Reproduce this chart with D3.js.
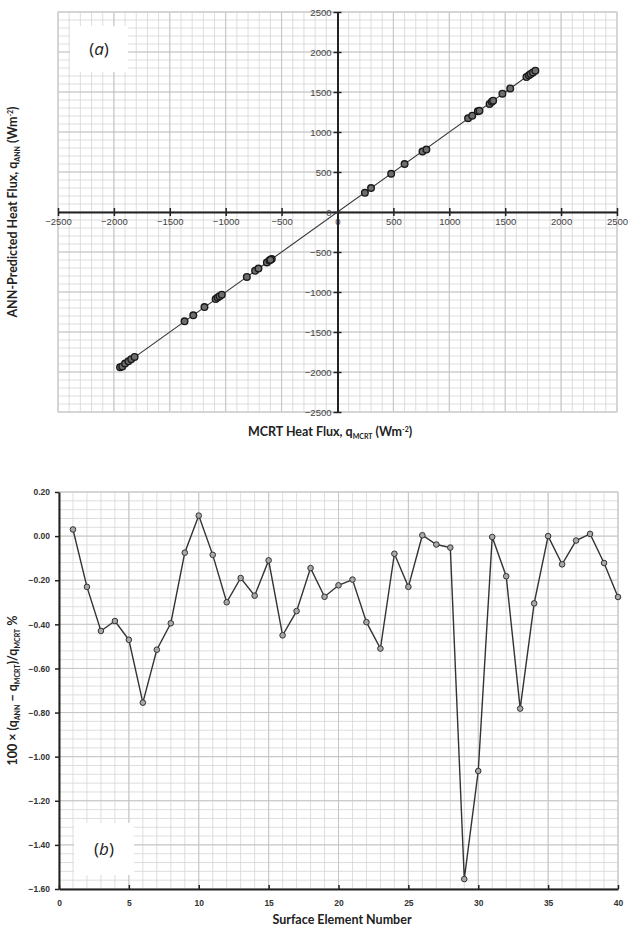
<!DOCTYPE html>
<html>
<head>
<meta charset="utf-8">
<script src="https://cdn.jsdelivr.net/npm/d3@7"></script>
<style>
  html, body { margin: 0; padding: 0; background: #fff; }
  svg { display: block; font-family: Lato, "Open Sans", sans-serif; }
  .tick_lbl { fill: #444; font-size: 9.5px; }
  .tick_lbl_b { fill: #333; font-size: 8.5px; font-weight: bold; }
  .axis_title { fill: #222; font-size: 12.5px; font-weight: bold; }
</style>
</head>
<body>
<svg id="fig" width="629" height="929"></svg>
<script>
// 数据 (a): MCRT vs ANN heat flux, 40 surface elements
const mcrtFlux = [245, 300, 480, 600, 760, 795, 1168, 1205, 1255, 1270,
  1360, 1380, 1392, 1475, 1545, 1690, 1712, 1728, 1748, 1770,
  -1945, -1925, -1900, -1870, -1845, -1815, -1368, -1290, -1190, -1090,
  -1072, -1055, -1035, -811, -737, -707, -632, -609, -588, -600];
const annFlux = [240, 300, 478, 600, 757, 780, 1172, 1204, 1258, 1265,
  1350, 1378, 1391, 1479, 1545, 1687, 1710, 1726, 1745, 1766,
  -1940, -1930, -1895, -1866, -1840, -1812, -1367, -1292, -1188, -1088,
  -1070, -1052, -1034, -812, -735, -706, -630, -607, -589, -598];
const fluxTicks = [-2500, -2000, -1500, -1000, -500, 0, 500, 1000, 1500, 2000, 2500];

// 数据 (b): relative error per surface element
const elementNo = d3.range(1, 41);
const relError = [0.03, -0.23, -0.43, -0.385, -0.47, -0.755, -0.515, -0.395, -0.075, 0.093,
  -0.085, -0.30, -0.19, -0.27, -0.11, -0.45, -0.34, -0.145, -0.275, -0.223,
  -0.197, -0.39, -0.51, -0.08, -0.23, 0.004, -0.038, -0.052, -1.555, -1.065,
  -0.004, -0.182, -0.782, -0.305, 0.0, -0.128, -0.02, 0.01, -0.122, -0.276];
const errTicks = [0.2, 0, -0.2, -0.4, -0.6, -0.8, -1.0, -1.2, -1.4, -1.6];
const elemTicks = [0, 5, 10, 15, 20, 25, 30, 35, 40];

const svg = d3.select('#fig');

// 绘制网格
function drawGrid(g, x, y, xMinor, yMinor, xMajor, yMajor) {
    const [x0, x1] = x.range();
    const [y0, y1] = y.range();
    g.append('g').selectAll('line').data(xMinor).enter().append('line')
        .attr('x1', d => x(d)).attr('x2', d => x(d))
        .attr('y1', y0).attr('y2', y1)
        .attr('stroke', '#d6d6d6').attr('stroke-width', 0.8);
    g.append('g').selectAll('line').data(yMinor).enter().append('line')
        .attr('x1', x0).attr('x2', x1)
        .attr('y1', d => y(d)).attr('y2', d => y(d))
        .attr('stroke', '#d6d6d6').attr('stroke-width', 0.8);
    g.append('g').selectAll('line').data(xMajor).enter().append('line')
        .attr('x1', d => x(d)).attr('x2', d => x(d))
        .attr('y1', y0).attr('y2', y1)
        .attr('stroke', '#c2c2c2').attr('stroke-width', 0.9);
    g.append('g').selectAll('line').data(yMajor).enter().append('line')
        .attr('x1', x0).attr('x2', x1)
        .attr('y1', d => y(d)).attr('y2', d => y(d))
        .attr('stroke', '#c2c2c2').attr('stroke-width', 0.9);
    g.append('rect')
        .attr('x', x0).attr('y', Math.min(y0, y1))
        .attr('width', x1 - x0).attr('height', Math.abs(y1 - y0))
        .attr('fill', 'none').attr('stroke', '#d0d0d0');
}

function panelLabel(g, cx, cy, w, h, letter) {
    g.append('rect')
        .attr('x', cx - w / 2).attr('y', cy - h / 2)
        .attr('width', w).attr('height', h)
        .attr('fill', '#fff');
    const t = g.append('text')
        .attr('x', cx).attr('y', cy + 6)
        .attr('text-anchor', 'middle')
        .style('font-size', '17px')
        .style('font-family', '"Open Sans", sans-serif')
        .attr('fill', '#222');
    t.append('tspan').text('(');
    t.append('tspan').text(letter).style('font-style', 'italic');
    t.append('tspan').text(')');
}

// ---------------- (a) ----------------
(function drawTop() {
    const x = d3.scaleLinear().domain([-2500, 2500]).range([58, 617]);
    const y = d3.scaleLinear().domain([-2500, 2500]).range([412, 12]);
    const g = svg.append('g').attr('id', 'panel_a');

    const minor = d3.range(-2500, 2501, 100);
    const major = d3.range(-2500, 2501, 500);
    drawGrid(g, x, y, minor, minor, major, major);
    panelLabel(g, 99, 49, 58, 46, 'a');

    // 坐标轴 (through origin)
    const xAxis = d3.axisBottom(x).tickValues(fluxTicks).tickSize(0).tickFormat(d3.format('d'));
    const gx = g.append('g').attr('transform', `translate(0, ${y(0)})`).call(xAxis);
    gx.select('.domain').attr('stroke', '#222').attr('stroke-width', 2);
    gx.selectAll('text').attr('class', 'tick_lbl').attr('dy', '1.1em').attr('fill', null);
    gx.selectAll('.tick').append('line')
        .attr('y1', -4).attr('y2', 4).attr('stroke', '#222').attr('stroke-width', 1.5);

    const yAxis = d3.axisLeft(y).tickValues(fluxTicks).tickSize(0).tickFormat(d3.format('d'));
    const gy = g.append('g').attr('transform', `translate(${x(0)}, 0)`).call(yAxis);
    gy.select('.domain').attr('stroke', '#222').attr('stroke-width', 2);
    gy.selectAll('text').attr('class', 'tick_lbl').attr('x', -6).attr('fill', null);
    gy.selectAll('.tick').append('line')
        .attr('x1', -4).attr('x2', 4).attr('stroke', '#222').attr('stroke-width', 1.5);

    // 趋势线
    const ext = d3.extent(mcrtFlux);
    g.append('line')
        .attr('x1', x(ext[0])).attr('y1', y(ext[0]))
        .attr('x2', x(ext[1])).attr('y2', y(ext[1]))
        .attr('stroke', '#333').attr('stroke-width', 1.1);

    g.append('g').selectAll('circle').data(mcrtFlux).enter().append('circle')
        .attr('cx', d => x(d))
        .attr('cy', (d, i) => y(annFlux[i]))
        .attr('r', 3.3)
        .attr('fill', '#6e6e6e')
        .attr('stroke', '#1a1a1a')
        .attr('stroke-width', 1.4);

    // 轴标题
    const yt = g.append('text').attr('class', 'axis_title')
        .attr('transform', `translate(17, ${y(0)}) rotate(-90)`)
        .attr('text-anchor', 'middle');
    yt.append('tspan').text('ANN-Predicted Heat Flux, q');
    yt.append('tspan').text('ANN').attr('dy', 3).style('font-size', '7px');
    yt.append('tspan').text(' (Wm').attr('dy', -3);
    yt.append('tspan').text('-2').attr('dy', -4).style('font-size', '7px');
    yt.append('tspan').text(')').attr('dy', 4);

    const xt = g.append('text').attr('class', 'axis_title')
        .attr('x', 330).attr('y', 436)
        .attr('text-anchor', 'middle');
    xt.append('tspan').text('MCRT Heat Flux, q');
    xt.append('tspan').text('MCRT').attr('dy', 3).style('font-size', '7px');
    xt.append('tspan').text(' (Wm').attr('dy', -3);
    xt.append('tspan').text('-2').attr('dy', -4).style('font-size', '7px');
    xt.append('tspan').text(')').attr('dy', 4);
})();

// ---------------- (b) ----------------
(function drawBottom() {
    const x = d3.scaleLinear().domain([0, 40]).range([59, 618]);
    const y = d3.scaleLinear().domain([-1.6, 0.2]).range([889, 492]);
    const g = svg.append('g').attr('id', 'panel_b');

    const xMinor = d3.range(0, 40.01, 1);
    const yMinor = d3.range(-1.6, 0.201, 0.04);
    const xMajor = d3.range(0, 40.01, 5);
    const yMajor = errTicks;
    drawGrid(g, x, y, xMinor, yMinor, xMajor, yMajor);
    panelLabel(g, 104, 849, 60, 52, 'b');

    const xAxis = d3.axisBottom(x).tickValues(elemTicks).tickSize(0);
    const gx = g.append('g').attr('transform', `translate(0, ${y(-1.6)})`).call(xAxis);
    gx.select('.domain').attr('stroke', '#222').attr('stroke-width', 2);
    gx.selectAll('text').attr('class', 'tick_lbl_b').attr('dy', '1.6em').attr('fill', null);
    gx.selectAll('.tick').append('line')
        .attr('y1', -4).attr('y2', 0).attr('stroke', '#222').attr('stroke-width', 1.5);

    const yAxis = d3.axisLeft(y).tickValues(errTicks).tickSize(0).tickFormat(d3.format('.2f'));
    const gy = g.append('g').attr('transform', `translate(${x(0)}, 0)`).call(yAxis);
    gy.select('.domain').attr('stroke', '#222').attr('stroke-width', 2);
    gy.selectAll('text').attr('class', 'tick_lbl_b').attr('x', -9).attr('fill', null);
    gy.selectAll('.tick').append('line')
        .attr('x1', -4).attr('x2', 0).attr('stroke', '#222').attr('stroke-width', 1.5);

    const line = d3.line()
        .x((d, i) => x(elementNo[i]))
        .y(d => y(d));
    g.append('path').datum(relError)
        .attr('d', line)
        .attr('fill', 'none')
        .attr('stroke', '#333')
        .attr('stroke-width', 1.4);

    g.append('g').selectAll('circle').data(relError).enter().append('circle')
        .attr('cx', (d, i) => x(elementNo[i]))
        .attr('cy', d => y(d))
        .attr('r', 2.8)
        .attr('fill', '#a8a8a8')
        .attr('stroke', '#333')
        .attr('stroke-width', 1);

    const yt = g.append('text').attr('class', 'axis_title')
        .attr('transform', `translate(17, ${y(-0.7)}) rotate(-90)`)
        .attr('text-anchor', 'middle');
    yt.append('tspan').text('100 × (q');
    yt.append('tspan').text('ANN').attr('dy', 3).style('font-size', '7px');
    yt.append('tspan').text(' − q').attr('dy', -3);
    yt.append('tspan').text('MCRT').attr('dy', 3).style('font-size', '7px');
    yt.append('tspan').text(')/q').attr('dy', -3);
    yt.append('tspan').text('MCRT').attr('dy', 3).style('font-size', '7px');
    yt.append('tspan').text(' %').attr('dy', -3);

    g.append('text').attr('class', 'axis_title')
        .attr('x', 342).attr('y', 924)
        .attr('text-anchor', 'middle')
        .text('Surface Element Number');
})();
</script>
</body>
</html>
